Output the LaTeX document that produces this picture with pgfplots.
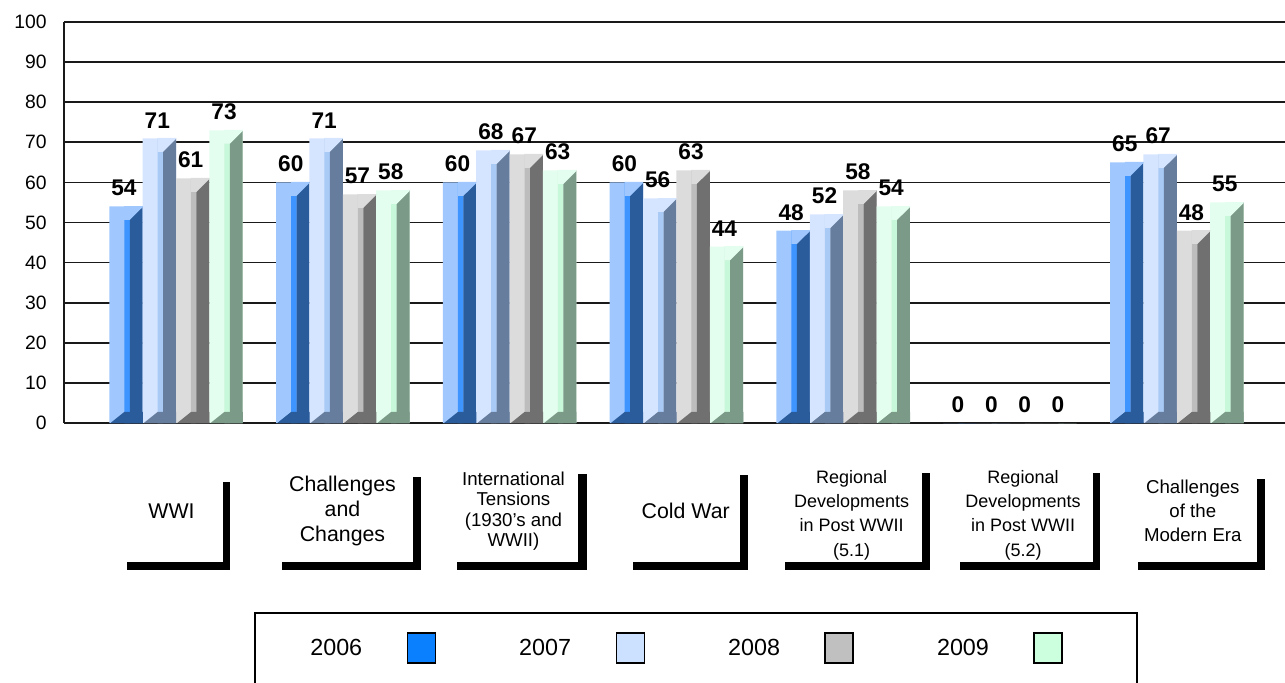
\documentclass[border=0pt]{standalone}
\usepackage{fontspec}
\setmainfont{Liberation Sans}
\usepackage{pgfplots}
\usepackage{pgfplotstable}
\pgfplotsset{compat=1.18}

% face / inner strip / side / legend swatch, one set per year
\definecolor{faceA}{HTML}{A0C8FF}\definecolor{stripA}{HTML}{3E95FF}\definecolor{sideA}{HTML}{2A5C9C}\definecolor{legA}{HTML}{0A80FF}
\definecolor{faceB}{HTML}{D5E5FF}\definecolor{stripB}{HTML}{A8CAF5}\definecolor{sideB}{HTML}{667D9E}\definecolor{legB}{HTML}{CCE0FF}
\definecolor{faceC}{HTML}{DCDCDC}\definecolor{stripC}{HTML}{BDBDBD}\definecolor{sideC}{HTML}{707070}\definecolor{legC}{HTML}{C0C0C0}
\definecolor{faceD}{HTML}{E3FDEE}\definecolor{stripD}{HTML}{C8F8DA}\definecolor{sideD}{HTML}{7B9A87}\definecolor{legD}{HTML}{CCFFDD}

\pgfplotstableread{
idx y06 y07 y08 y09
0 54 71 61 73
1 60 71 57 58
2 60 68 67 63
3 60 56 63 44
4 48 52 58 54
5 0 0 0 0
6 65 67 48 55
}\scores

% light cap over the top of strip and side (slanted top of the side face)
\pgfdeclareplotmark{barcap}{%
  \pgfpathmoveto{\pgfqpoint{-1.35pt}{0.3pt}}%
  \pgfpathlineto{\pgfqpoint{12.6pt}{0.3pt}}%
  \pgfpathlineto{\pgfqpoint{12.6pt}{-0.4pt}}%
  \pgfpathlineto{\pgfqpoint{2.85pt}{-10.1pt}}%
  \pgfpathlineto{\pgfqpoint{-1.35pt}{-10.1pt}}%
  \pgfpathclose\pgfusepathqfill}
% dark floor at the foot of each bar
\pgfdeclareplotmark{barfloor}{%
  \pgfpathmoveto{\pgfqpoint{-11.6pt}{0pt}}%
  \pgfpathlineto{\pgfqpoint{-1.3pt}{8.25pt}}%
  \pgfpathlineto{\pgfqpoint{12.6pt}{8.25pt}}%
  \pgfpathlineto{\pgfqpoint{12.6pt}{0pt}}%
  \pgfpathclose\pgfusepathqfill}

% category label: size, line skip, text
\newcommand{\lbl}[3]{\parbox{120pt}{\centering\fontsize{#1}{#2}\selectfont #3}}

% #1 column, #2 shift, #3 strip shift, #4 side shift, #5 face, #6 strip, #7 side, #8 legend
\newcommand{\barseries}[8]{%
  \addplot[ybar, bar width=0.2, bar shift=#2, draw=none, fill=#5,
    legend image code/.code={%
      \path (0pt,0pt) (117.75pt,0pt);
      \draw[fill=#8, line width=0.9pt] (33.75pt,-11.25pt) rectangle (54.75pt,11.25pt);}]
    table[x=idx, y=#1] {\scores};
  \addplot[ybar, bar width=0.033, bar shift=#3, draw=none, fill=#6, forget plot]
    table[x=idx, y=#1] {\scores};
  \addplot[ybar, bar width=0.0773, bar shift=#4, draw=none, fill=#7, forget plot]
    table[x=idx, y=#1] {\scores};
  \addplot[only marks, mark=barcap, mark options={fill=#5, draw=none}, forget plot,
    skip coords between index={5}{6}]
    table[x expr=\thisrow{idx}+#2, y=#1] {\scores};
  \addplot[only marks, mark=barfloor, mark options={fill=#7, draw=none}, forget plot,
    skip coords between index={5}{6}]
    table[x expr=\thisrow{idx}+#2, y expr=0] {\scores};
  \addplot[draw=none, mark=none, nodes near coords, forget plot]
    table[x expr=\thisrow{idx}+#2, y=#1] {\scores};
}

\begin{document}
\begin{tikzpicture}
\useasboundingbox (0,0) rectangle (963.75pt,511.5pt);

\begin{axis}[
    at={(48pt,194.25pt)}, anchor=south west,
    scale only axis,
    width=915.75pt, height=300.75pt,
    xmin=-0.6715, xmax=6.6487,
    ymin=0, ymax=100,
    axis x line*=bottom,
    axis y line*=left,
    axis line style={black!90, line width=1.3pt},
    ymajorgrids,
    grid style={black!90, line width=1.3pt},
    major tick length=0pt,
    ytick={0,10,...,100},
    /pgf/number format/assume math mode=true,
    yticklabel style={font=\fontsize{14.5}{17}\selectfont, anchor=east, inner sep=0pt, xshift=-12.75pt},
    xtick={-0.027,0.998,2.023,3.056,4.05,5.078,6.096},
    xticklabels={
      {\lbl{16}{18.4}{WWI}},
      {\lbl{16}{18.4}{Challenges\\and\\Changes}},
      {\lbl{14}{15.4}{International\\Tensions\\(1930's and\\WWII)}},
      {\lbl{16}{18.4}{Cold War}},
      {\lbl{13.5}{18.2}{\vspace*{6pt}Regional\\Developments\\in Post WWII\\(5.1)}},
      {\lbl{13.5}{18.2}{\vspace*{6pt}Regional\\Developments\\in Post WWII\\(5.2)}},
      {\lbl{14}{18}{Challenges\\of the\\Modern Era}}},
    xticklabel style={anchor=center, inner sep=0pt, yshift=-66pt},
    every node near coord/.append style={font=\bfseries\fontsize{17}{20}\selectfont,
      inner sep=0pt, anchor=south, yshift=7.5pt, xshift=-1.5pt},
    legend plot pos=right,
    legend columns=4,
    legend entries={2006,2007,2008,2009},
    legend style={draw=none, fill=none, inner sep=0pt, column sep=0pt,
      nodes={inner sep=0pt, font=\fontsize{17.5}{20}\selectfont},
      at={(0.2015,-0.561)}, anchor=west},
]
\barseries{y06}{-0.3}{-0.2937}{-0.2386}{faceA}{stripA}{sideA}{legA}
\barseries{y07}{-0.1}{-0.0937}{-0.0386}{faceB}{stripB}{sideB}{legB}
\barseries{y08}{0.1}{0.1063}{0.1614}{faceC}{stripC}{sideC}{legC}
\barseries{y09}{0.3}{0.3063}{0.3614}{faceD}{stripD}{sideD}{legD}
\end{axis}

% L-shaped frames under the category names and the legend frame, in image pixels
\begin{scope}[x=0.75pt, y=-0.75pt, yshift=511.5pt]
  \fill (223,482) rectangle (230,570);  \fill (127,562) rectangle (230,570);
  \fill (413,477) rectangle (421,570);  \fill (282,562) rectangle (421,570);
  \fill (578,474) rectangle (587,570);  \fill (457,562) rectangle (587,570);
  \fill (740,475) rectangle (748,570);  \fill (633,562) rectangle (748,570);
  \fill (922,473) rectangle (930,570);  \fill (785,562) rectangle (930,570);
  \fill (1093,473) rectangle (1100,570); \fill (960,562) rectangle (1100,570);
  \fill (1257,479) rectangle (1265,570); \fill (1138,562) rectangle (1265,570);
  \draw[line width=1.2pt] (255,700) -- (255,613) -- (1137,613) -- (1137,700);
\end{scope}
\end{tikzpicture}
\end{document}
